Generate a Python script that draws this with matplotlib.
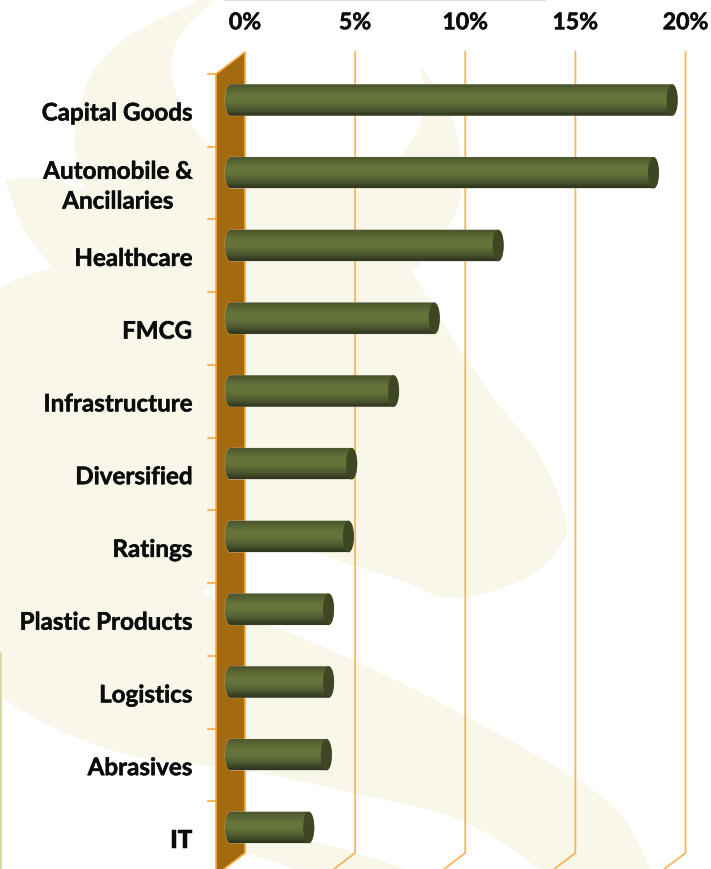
import numpy as np
import matplotlib
matplotlib.use("Agg")
import matplotlib.pyplot as plt
import matplotlib.patheffects as pe
from matplotlib.colors import LinearSegmentedColormap
from matplotlib.patches import Ellipse, PathPatch, Polygon
from matplotlib.path import Path

categories = ["Capital Goods", "Automobile &\nAncillaries", "Healthcare", "FMCG",
              "Infrastructure", "Diversified", "Ratings", "Plastic Products",
              "Logistics", "Abrasives", "IT"]
values = [20.05, 19.2, 12.15, 9.25, 7.4, 5.5, 5.35, 4.45, 4.45, 4.35, 3.55]
x_ticks = [0, 5, 10, 15, 20]
x_labels = ["0%", "5%", "10%", "15%", "20%"]

W, H = 711, 869
CREAM = "#f8f7ea"
ORANGE = "#f9a93c"
WALL = "#a36a10"
CAP = "#3e4623"
TEXT = "#0c0c0c"


def smooth(points, n=12):
    # catmull-rom through the points, ends stay put
    p = np.array(points, dtype=float)
    p = np.vstack([p[0], p, p[-1]])
    out = []
    for i in range(1, len(p) - 2):
        for t in np.linspace(0, 1, n, endpoint=False):
            out.append(0.5 * (2 * p[i] + (p[i + 1] - p[i - 1]) * t
                              + (2 * p[i - 1] - 5 * p[i] + 4 * p[i + 1] - p[i + 2]) * t ** 2
                              + (3 * p[i] - p[i - 1] - 3 * p[i + 1] + p[i + 2]) * t ** 3))
    out.append(p[-2])
    return out


fig = plt.figure(figsize=(W / 100, H / 100), dpi=100)

# watermark behind the chart, traced in pixels
bg = fig.add_axes([0, 0, 1, 1])
bg.set_xlim(0, W)
bg.set_ylim(H, 0)
bg.axis("off")
outline = []
outline += smooth([(0, 287), (25, 276), (52, 268)])
outline += smooth([(52, 268), (22, 225), (5, 180)])
outline += smooth([(5, 180), (42, 178), (85, 190)])
outline += smooth([(85, 190), (75, 150), (80, 105), (98, 65), (135, 32), (200, 0)])
outline += smooth([(215, 0), (180, 35), (172, 75), (188, 120), (216, 150), (245, 168),
                   (330, 172), (385, 168), (412, 140), (425, 105), (420, 67)])
outline += smooth([(420, 67), (445, 100), (460, 150), (460, 200), (440, 240), (412, 272)])
outline += smooth([(412, 272), (447, 330), (493, 397), (540, 457), (565, 517), (560, 547),
                   (523, 580), (453, 598), (400, 580), (347, 563), (290, 547), (250, 552),
                   (225, 578), (200, 592)])
outline += smooth([(200, 592), (245, 614), (353, 660), (460, 713), (573, 777), (623, 817), (650, 869)])
outline += smooth([(540, 869), (460, 820), (353, 793), (243, 770), (133, 756), (50, 726), (0, 696)])
bg.add_patch(Polygon(outline, closed=True, fc=CREAM, ec="none"))
band = smooth([(230, 825), (310, 840), (400, 867), (405, 869)]) + smooth([(295, 869), (245, 852), (230, 845)])
bg.add_patch(Polygon(band, closed=True, fc=CREAM, ec="none"))
bg.plot([0.5, 0.5], [653, H], color="#cfd29a", lw=1.2)
bg.plot([225, 545], [0.3, 0.3], color="#dddddd", lw=1.5)

# chart axes sit on the back plane, 0% to 20%
left, right, top, bottom = 245, 685.5, 52, 853
ax = fig.add_axes([left / W, 1 - bottom / H, (right - left) / W, (bottom - top) / H])
ax.patch.set_alpha(0)
px_x = 20 / (right - left)
pitch = 72.75
ax.set_xlim(0, 20)
ax.set_ylim((bottom - 100) / pitch, (top - 100) / pitch)
y_top, y_bot = ax.get_ylim()[1], ax.get_ylim()[0]
for s in ax.spines.values():
    s.set_visible(False)

depth_x = 29 * px_x
depth_y = 22 / pitch

# value gridlines with their floor diagonal
for t in x_ticks[1:]:
    ax.plot([t, t, t - depth_x], [y_top, y_bot, y_bot + depth_y], color=ORANGE, lw=1.3,
            alpha=0.85, clip_on=False, solid_joinstyle="miter", zorder=1)

# side wall
ax.add_patch(Polygon([(0, y_top), (0, y_bot), (-depth_x, y_bot + depth_y), (-depth_x, y_top + depth_y)],
                     closed=True, fc=WALL, ec=ORANGE, lw=1.2, clip_on=False, zorder=2))
for i in range(len(categories)):
    y = i - 100 / pitch + (top + 22) / pitch
    ax.plot([-depth_x - 8 * px_x, -depth_x], [y, y], color=ORANGE, lw=1.2, clip_on=False, zorder=2)

# cylinders stand mid depth, so their zero is left of the back plane
cyl = LinearSegmentedColormap.from_list("cyl", [(0, "#47522c"), (0.1, "#525e30"), (0.35, "#67753b"),
                                                (0.55, "#65733a"), (0.8, "#4c5730"), (0.95, "#343c21"),
                                                (1, "#2e351d")])
grad = np.linspace(0, 1, 64).reshape(-1, 1)
x0 = -14.5 * px_x
rx = 5.5 * px_x
hh = 15.7 / pitch
theta = np.linspace(-np.pi / 2, np.pi / 2, 24)
for i, v in enumerate(values):
    end = x0 + v
    rgt = np.c_[end + rx * np.cos(theta), i + hh * np.sin(theta)]
    lft = np.c_[x0 - rx * np.cos(theta[::-1]), i + hh * np.sin(theta[::-1])]
    outline_path = Path(np.vstack([rgt, lft, rgt[:1]]))
    ax.add_patch(PathPatch(outline_path, fc="none", ec="#c9c9bf", lw=0.6, alpha=0.6, clip_on=False, zorder=3))
    shape = PathPatch(outline_path, fc="none", ec="none", transform=ax.transData)
    ax.add_patch(shape)
    im = ax.imshow(grad, cmap=cyl, aspect="auto", extent=[x0 - rx, end + rx, i + hh, i - hh],
                   zorder=4, interpolation="bilinear")
    im.set_clip_box(fig.bbox)
    im.set_clip_path(shape)
    ax.add_patch(Ellipse((end, i), 2 * rx, 2 * hh, fc=CAP, ec="none", clip_on=False, zorder=5))

ax.set_xlim(0, 20)
ax.set_ylim(y_bot, y_top)

ax.xaxis.tick_top()
ax.set_xticks(x_ticks)
ax.set_xticklabels(x_labels, fontsize=16.6, fontweight="bold", family="Lato", color=TEXT)
ax.tick_params(axis="x", length=0, pad=13.5)
# the two line label sits a bit higher than the rest
ax.set_yticks([i + (0.11 if "\n" in c else 0.15) for i, c in enumerate(categories)])
ax.set_yticklabels(categories, fontsize=17.4, fontweight="bold", family="Lato", color=TEXT,
                   multialignment="center", linespacing=1.36)
ax.tick_params(axis="y", length=0, pad=38)

# the original lettering is a touch heavier than Lato Bold
for lab in ax.get_xticklabels() + ax.get_yticklabels():
    lab.set_path_effects([pe.withStroke(linewidth=0.35, foreground=TEXT)])

fig.savefig("out.png", dpi=100)
